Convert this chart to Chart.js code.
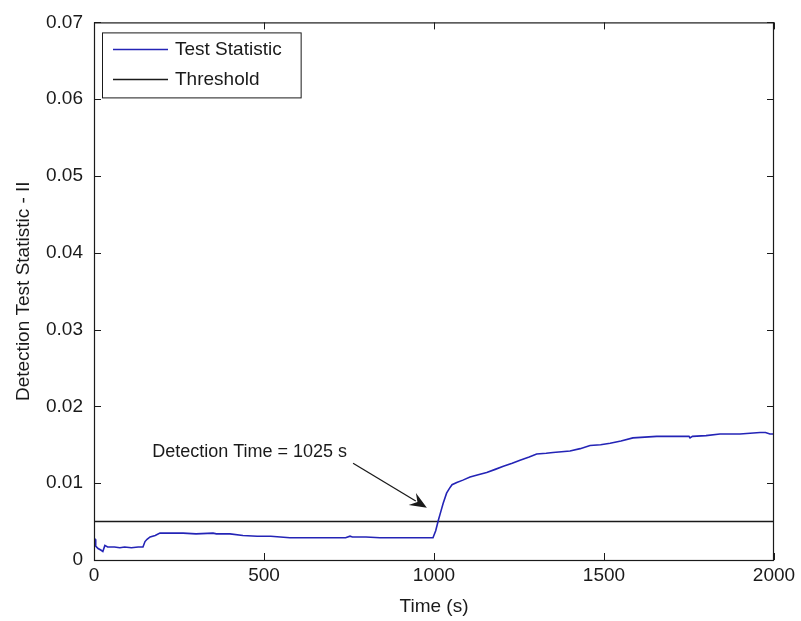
<!DOCTYPE html>
<html>
<head>
<meta charset="utf-8">
<title>Detection Test Statistic</title>
<script src="https://cdn.jsdelivr.net/npm/chart.js@4"></script>
<style>
  html, body { margin: 0; padding: 0; background: #fff; }
  #wrap { width: 801px; height: 621px; }
</style>
</head>
<body>
<div id="wrap"><canvas id="chart" width="801" height="621"></canvas></div>
<script>
// Test statistic over time (s)
const times = [0, 3, 5, 12, 20, 26, 32, 40, 60, 76, 90, 110, 130, 144, 150, 156, 165, 180, 194, 220,
  262, 300, 350, 360, 400, 438, 480, 520, 576, 620, 700, 740, 753, 760, 800, 841, 900, 960, 997,
  1005, 1013, 1020, 1027, 1037, 1045, 1053, 1067, 1085, 1106, 1130, 1155, 1180, 1204, 1230, 1253,
  1280, 1302, 1330, 1350, 1400, 1430, 1459, 1490, 1518, 1550, 1585, 1620, 1655, 1700, 1750, 1753,
  1760, 1800, 1841, 1900, 1959, 1975, 1988, 2000];
const statistic = [0.0029, 0.0027, 0.0018, 0.0015, 0.0013, 0.0011, 0.0019, 0.0017, 0.0017, 0.0016,
  0.0017, 0.0016, 0.0017, 0.0017, 0.0024, 0.0027, 0.0030, 0.0032, 0.0035, 0.0035,
  0.0035, 0.0034, 0.0035, 0.0034, 0.0034, 0.0032, 0.0031, 0.0031, 0.0029, 0.0029, 0.0029, 0.0029,
  0.0031, 0.0030, 0.0030, 0.0029, 0.0029, 0.0029, 0.0029,
  0.0038, 0.0052, 0.0063, 0.0074, 0.0087, 0.0093, 0.0098, 0.0101, 0.0104, 0.0108, 0.0111, 0.0114,
  0.0118, 0.0122, 0.0126, 0.0130, 0.0134, 0.0138, 0.0139, 0.0140, 0.0142, 0.0145, 0.0149, 0.0150,
  0.0152, 0.0155, 0.0159, 0.0160, 0.0161, 0.0161, 0.0161, 0.0159, 0.0161, 0.0162, 0.0164, 0.0164,
  0.0166, 0.0166, 0.0164, 0.0164];

// Constant detection threshold
const thresholdTimes = [0, 2000];
const thresholdValues = [0.005, 0.005];

const seriesNames = ['Test Statistic', 'Threshold'];
const xTicks = [0, 500, 1000, 1500, 2000];
const yTicks = [0, 0.01, 0.02, 0.03, 0.04, 0.05, 0.06, 0.07];

const detectionText = 'Detection Time = 1025 s';
const arrowFrom = { x: 762, y: 0.0126 };
const arrowTo = { x: 979, y: 0.0068 };
const textAt = { x: 171, y: 0.0141 };

const FONT = '"Liberation Sans", Arial, Helvetica, sans-serif';
const BLUE = '#2424b6';
const INK = '#1a1a1a';

function toPoints(xs, ys) {
  return xs.map((x, i) => ({ x: x, y: ys[i] }));
}

// Box around the plot, inward tick marks, legend and the arrow note
const matlabAxes = {
  id: 'matlabAxes',
  afterDatasetsDraw(chart) {
    const ctx = chart.ctx;
    const { left, right, top, bottom } = chart.chartArea;
    const xs = chart.scales.x;
    const ys = chart.scales.y;
    const tick = 7;

    ctx.save();
    ctx.strokeStyle = INK;
    ctx.lineWidth = 1.2;
    ctx.strokeRect(left + 0.5, top + 0.5, right - left - 1, bottom - top);

    ctx.lineWidth = 1;
    ctx.beginPath();
    xTicks.forEach(v => {
      const px = Math.round(xs.getPixelForValue(v)) + 0.5;
      ctx.moveTo(px, bottom); ctx.lineTo(px, bottom - tick);
      ctx.moveTo(px, top); ctx.lineTo(px, top + tick);
    });
    yTicks.forEach(v => {
      const py = Math.round(ys.getPixelForValue(v)) + 0.5;
      ctx.moveTo(left, py); ctx.lineTo(left + tick, py);
      ctx.moveTo(right, py); ctx.lineTo(right - tick, py);
    });
    ctx.stroke();

    // legend
    ctx.font = '19px ' + FONT;
    const lx = left + 8, ly = top + 10;
    const textW = Math.max(...seriesNames.map(n => ctx.measureText(n).width));
    const boxW = 73 + textW + 19, boxH = 65;
    ctx.fillStyle = '#fff';
    ctx.fillRect(lx, ly, boxW, boxH);
    ctx.strokeRect(lx + 0.5, ly + 0.5, boxW, boxH);
    const colors = [BLUE, INK];
    seriesNames.forEach((name, i) => {
      const cy = ly + 17 + i * 30;
      ctx.strokeStyle = colors[i];
      ctx.lineWidth = 1.5;
      ctx.beginPath();
      ctx.moveTo(lx + 11, cy); ctx.lineTo(lx + 66, cy);
      ctx.stroke();
      ctx.fillStyle = INK;
      ctx.textBaseline = 'middle';
      ctx.textAlign = 'left';
      ctx.fillText(name, lx + 73, cy);
    });

    // detection note with arrow
    ctx.font = '18px ' + FONT;
    ctx.fillStyle = INK;
    ctx.textBaseline = 'middle';
    ctx.fillText(detectionText, xs.getPixelForValue(textAt.x), ys.getPixelForValue(textAt.y));

    const x0 = xs.getPixelForValue(arrowFrom.x), y0 = ys.getPixelForValue(arrowFrom.y);
    const x1 = xs.getPixelForValue(arrowTo.x), y1 = ys.getPixelForValue(arrowTo.y);
    const ang = Math.atan2(y1 - y0, x1 - x0);
    const headLen = 17, headW = 7;
    const bx = x1 - headLen * Math.cos(ang), by = y1 - headLen * Math.sin(ang);
    ctx.strokeStyle = INK;
    ctx.lineWidth = 1.3;
    ctx.beginPath();
    ctx.moveTo(x0, y0); ctx.lineTo(bx + 4 * Math.cos(ang), by + 4 * Math.sin(ang));
    ctx.stroke();
    ctx.beginPath();
    ctx.moveTo(x1, y1);
    ctx.lineTo(bx + headW * Math.sin(ang), by - headW * Math.cos(ang));
    ctx.lineTo(x1 - (headLen - 6) * Math.cos(ang), y1 - (headLen - 6) * Math.sin(ang));
    ctx.lineTo(bx - headW * Math.sin(ang), by + headW * Math.cos(ang));
    ctx.closePath();
    ctx.fill();
    ctx.restore();
  }
};

const ctx = document.getElementById('chart').getContext('2d');
new Chart(ctx, {
  type: 'line',
  data: {
    datasets: [{
      label: seriesNames[0],
      data: toPoints(times, statistic),
      borderColor: BLUE,
      borderWidth: 1.6,
      pointRadius: 0,
      tension: 0,
      fill: false
    }, {
      label: seriesNames[1],
      data: toPoints(thresholdTimes, thresholdValues),
      borderColor: INK,
      borderWidth: 1.5,
      pointRadius: 0,
      fill: false
    }]
  },
  options: {
    responsive: false,
    animation: false,
    layout: { padding: { left: 0, right: 27, top: 21, bottom: 0 } },
    plugins: {
      legend: { display: false },
      tooltip: { enabled: false }
    },
    scales: {
      x: {
        type: 'linear',
        min: 0,
        max: 2000,
        afterBuildTicks: s => { s.ticks = xTicks.map(v => ({ value: v })); },
        afterFit: s => { s.height = 61; },
        grid: { display: false, drawTicks: false },
        border: { display: false },
        ticks: {
          padding: 4,
          color: INK,
          font: { family: FONT, size: 19 },
          callback: v => String(v)
        },
        title: {
          display: true,
          text: 'Time (s)',
          color: INK,
          font: { family: FONT, size: 19 },
          padding: { top: 0, bottom: 3 }
        }
      },
      y: {
        min: 0,
        max: 0.07,
        afterBuildTicks: s => { s.ticks = yTicks.map(v => ({ value: v })); },
        afterFit: s => { s.width = 94; },
        grid: { display: false, drawTicks: false },
        border: { display: false },
        ticks: {
          padding: 11,
          color: INK,
          font: { family: FONT, size: 19 },
          callback: v => (v === 0 ? '0' : v.toFixed(2))
        },
        title: {
          display: true,
          text: 'Detection Test Statistic - II',
          color: INK,
          font: { family: FONT, size: 19 },
          padding: { top: 12, bottom: 0 }
        }
      }
    }
  },
  plugins: [matlabAxes]
});
</script>
</body>
</html>
